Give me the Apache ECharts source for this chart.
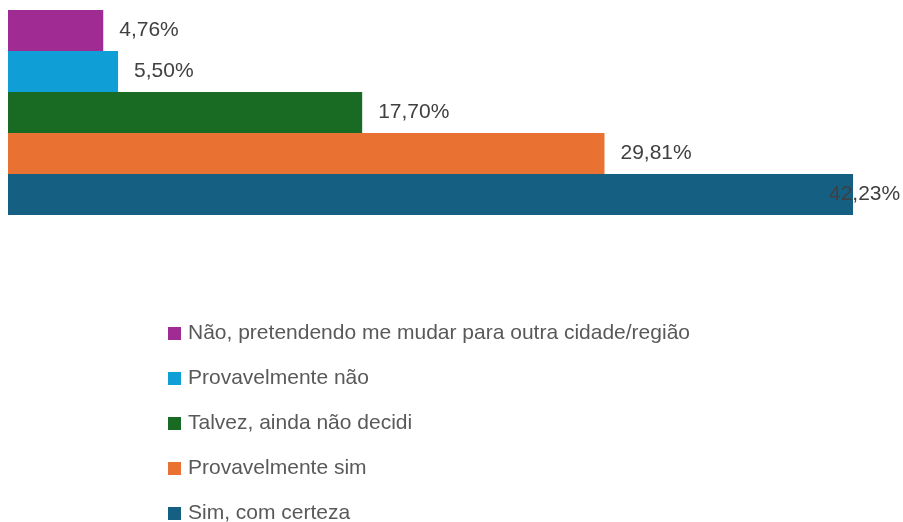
<!DOCTYPE html>
<html>
<head>
<meta charset="utf-8">
<script src="https://cdn.jsdelivr.net/npm/echarts@6/dist/echarts.min.js"></script>
<style>
  * { margin: 0; padding: 0; }
  body { background: #fff; }
  #chart { width: 903px; height: 522px; }
</style>
</head>
<body>
<div id="chart"></div>
<script>
// series names, top bar first
const names = [
  'Não, pretendendo me mudar para outra cidade/região',
  'Provavelmente não',
  'Talvez, ainda não decidi',
  'Provavelmente sim',
  'Sim, com certeza'
]
const values = [4.76, 5.50, 17.70, 29.81, 42.23]
const colors = ['#A02B93', '#0F9ED5', '#196B24', '#E97132', '#156082']

const fmt = v => v.toFixed(2).replace('.', ',') + '%'

const chart = echarts.init(document.getElementById('chart'))

const series = names.map((name, i) => ({
  name: name,
  type: 'bar',
  data: [values[i]],
  itemStyle: { color: colors[i] },
  barGap: 0,
  barCategoryGap: 0,
  label: {
    show: true,
    position: 'right',
    distance: 16,
    // last label is pushed back over the bar end, like the original
    offset: i === names.length - 1 ? [-40, 0] : [0, 0],
    color: '#404040',
    fontSize: 21,
    fontFamily: 'Liberation Sans',
    formatter: p => fmt(p.value)
  }
}))

chart.setOption({
  animation: false,
  grid: { left: 8, top: 10, width: 845, height: 205 },
  xAxis: {
    type: 'value',
    min: 0,
    max: v => v.max,
    show: false
  },
  yAxis: {
    type: 'category',
    data: [''],
    show: false
  },
  legend: {
    orient: 'vertical',
    left: 168,
    top: 323,
    height: 260,
    padding: 0,
    icon: 'rect',
    itemWidth: 13,
    itemHeight: 13,
    itemGap: 24,
    data: names,
    textStyle: {
      color: '#595959',
      fontSize: 21,
      lineHeight: 21,
      padding: [0, 0, 0, 2],
      fontFamily: 'Liberation Sans'
    }
  },
  series: series
})
</script>
</body>
</html>
